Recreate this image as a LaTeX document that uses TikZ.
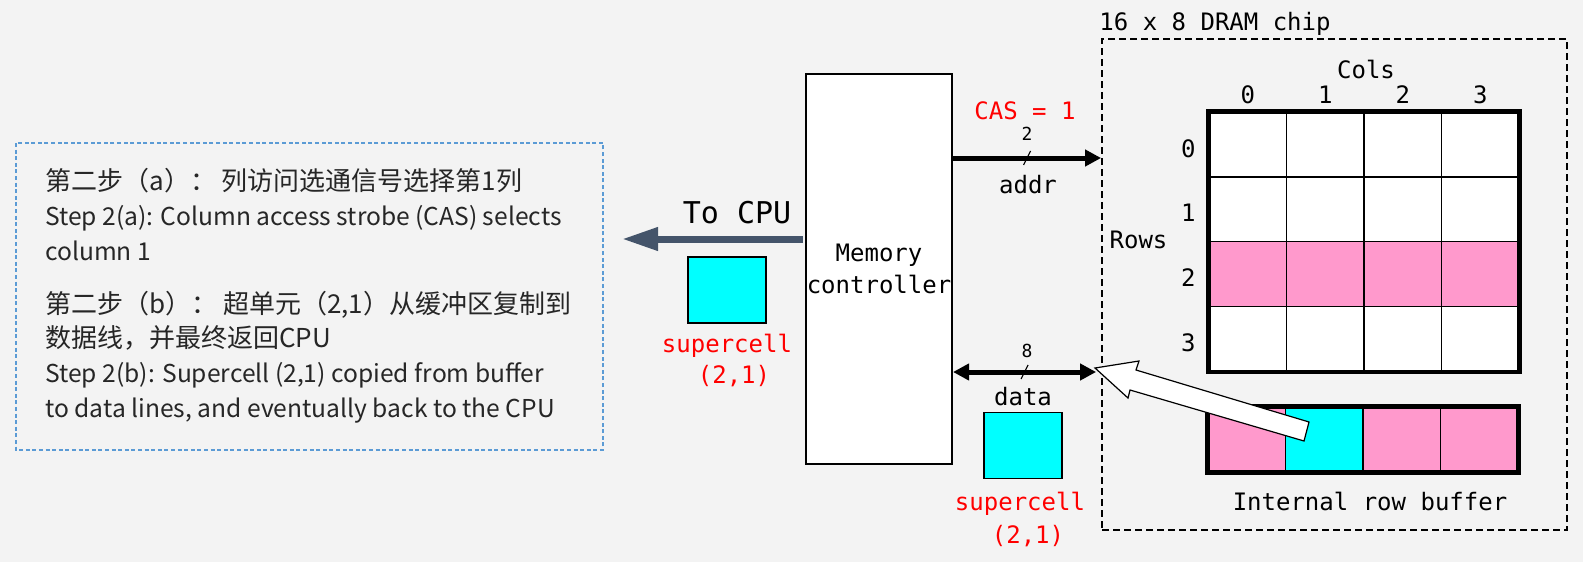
\documentclass[tikz,border=0pt]{standalone}
\usepackage{fontspec}
\setmonofont{DejaVu Sans Mono}
\newfontfamily\cjk{Noto Sans CJK SC}
\usetikzlibrary{arrows.meta,calc}
\definecolor{bg}{HTML}{F3F3F3}
\definecolor{boxblue}{HTML}{5B9BD5}
\definecolor{txtgray}{HTML}{262626}
\definecolor{slate}{HTML}{44546A}
\definecolor{cellpink}{HTML}{FF99CC}
\definecolor{cellcyan}{HTML}{00FFFF}
\definecolor{labred}{HTML}{FF0000}
\tikzset{
  txt/.style={font=\cjk\fontsize{12.3}{15}\selectfont, text=txtgray, inner sep=0pt, anchor=base west},
  txtcjk/.style={txt, font=\cjk\fontsize{13}{15}\selectfont},
  mono/.style={font=\ttfamily\fontsize{12}{16}\selectfont, inner sep=0pt},
  monosmall/.style={font=\ttfamily\fontsize{9}{11}\selectfont, inner sep=0pt},
  redlab/.style={mono, text=labred},
  mcbox/.style={draw, fill=white, line width=1pt, minimum width=73pt, minimum height=195pt, align=center, mono},
  cyanbox/.style={draw, fill=cellcyan, line width=0.8pt, minimum width=39pt, minimum height=33pt, inner sep=0pt},
  cell/.style={draw, line width=0.75pt, minimum width=38.75pt, minimum height=32.4pt, inner sep=0pt, fill=white},
  chipbox/.style={draw, dash pattern=on 3.5pt off 2pt, line width=0.9pt, minimum width=232.5pt, minimum height=245.5pt, inner sep=0pt},
  bus/.style={line width=2.5pt},
  bushead/.tip={Triangle[length=8pt,width=8pt]},
  slashmark/.style={line width=0.6pt, draw=black},
}
\begin{document}
\begin{tikzpicture}[x=0.5pt,y=-0.5pt]
\fill[bg] (0,0) rectangle (1583,562);
\useasboundingbox (0,0) rectangle (1583,562);

% ---- text box ----
\draw[boxblue, line width=0.6pt, dash pattern=on 2pt off 1.3pt] (16,143) rectangle (603,450);
\node[txtcjk] (l1) at (45,190) {第二步（a）： 列访问选通信号选择第1列};
\node[txt] (l2) at (45,225) {Step 2(a): Column access strobe (CAS) selects};
\node[txt] (l3) at (45,260) {column 1};
\node[txtcjk] (l4) at (45,313) {第二步（b）： 超单元（2,1）从缓冲区复制到};
\node[txtcjk] (l5) at (45,347) {数据线，并最终返回CPU};
\node[txt] (l6) at (45,382) {Step 2(b): Supercell (2,1) copied from buffer};
\node[txt] (l7) at (45,417) {to data lines, and eventually back to the CPU};

% ---- memory controller ----
\node[mcbox] (mc) at (879,269) {Memory\\controller};

% ---- to CPU ----
\coordinate (cpu) at (622,239);
\draw[slate, line width=3.5pt, -{Triangle[length=18pt,width=11pt]}] ([xshift=-1pt]mc.west |- cpu) -- (cpu);
\node[font=\ttfamily\fontsize{15}{18}\selectfont, inner sep=0pt, anchor=base] (tocpu) at (737,223) {To CPU};
\node[cyanbox] (sc1) at (727,290) {};
\node[redlab, anchor=base] (sc1a) at (727,352) {supercell};
\node[redlab, anchor=base] (sc1b) at (734,383) {(2,1)};

% ---- DRAM chip ----
\node[chipbox] (chip) at (1334.5,284.5) {};
\node[mono, anchor=base west] (chiplab) at (1099,31) {16 x 8 DRAM chip};

% ---- address bus ----
\coordinate (addrY) at (0,158);
\draw[bus, -bushead] (mc.east |- addrY) -- (chip.west |- addrY) coordinate[pos=0.5] (am);
\draw[slashmark] ($(am)+(-3.5,7)$) -- ($(am)+(3.5,-7)$);
\node[monosmall] (two) at (1027,134) {2};
\node[mono, anchor=base] (addr) at (1028,193) {addr};
\node[redlab, anchor=base] (cas) at (1025,119) {CAS = 1};

% ---- data bus ----
\coordinate (dataY) at (0,372);
\draw[bus, bushead-bushead] (mc.east |- dataY) -- ([xshift=-2.5pt]chip.west |- dataY) coordinate[pos=0.5] (dm);
\draw[slashmark] ($(dm)+(-3.5,7)$) -- ($(dm)+(3.5,-7)$);
\node[monosmall] (eight) at (1027,351) {8};
\node[mono, anchor=base] (data) at (1023,405) {data};
\node[cyanbox] (sc2) at (1023,445.5) {};
\node[redlab, anchor=base] (sc2a) at (1020,510) {supercell};
\node[redlab, anchor=base] (sc2b) at (1028,543) {(2,1)};

% ---- grid ----
\foreach \i in {0,...,3}{
  \foreach \j in {0,...,3}{
    \ifnum\i=2
      \node[cell, fill=cellpink] (c\i\j) at ({1209+38.75+77.5*\j},{112+32.4+64.8*\i}) {};
    \else
      \node[cell] (c\i\j) at ({1209+38.75+77.5*\j},{112+32.4+64.8*\i}) {};
    \fi
  }
}
\draw[line width=2.4pt] (c00.north west) rectangle (c33.south east);
\coordinate (colY) at (0,103);
\foreach \j in {0,...,3}{
  \node[mono, anchor=base] (cl\j) at (c0\j |- colY) {\j};
}
\foreach \i in {0,...,3}{
  \node[mono] (rl\i) at ([xshift=-10pt,yshift=-2pt]c\i0.west) {\i};
}
\node[mono, anchor=base] (cols) at (1366,78) {Cols};
\node[mono, anchor=base] (rows) at (1138.5,248) {Rows};

% ---- row buffer ----
\foreach \j in {0,...,3}{
  \ifnum\j=1
    \node[cell, fill=cellcyan, minimum height=32.5pt] (b\j) at ({1208+38.75+77.5*\j},439.5) {};
  \else
    \node[cell, fill=cellpink, minimum height=32.5pt] (b\j) at ({1208+38.75+77.5*\j},439.5) {};
  \fi
}
\draw[line width=2.4pt] (b0.north west) rectangle (b3.south east);
\node[mono, anchor=base] (buflab) at (1370,510) {Internal row buffer};

% ---- white block arrow from buffer to data bus ----
\coordinate (wtip) at (1095,368);
\filldraw[fill=white, draw=black, line width=0.6pt, line join=miter]
  (wtip) -- (1139,361) -- (1136,370) -- (1309,422) -- (1304,441) -- (1130,390) -- (1128,398) -- cycle;
\end{tikzpicture}
\end{document}
